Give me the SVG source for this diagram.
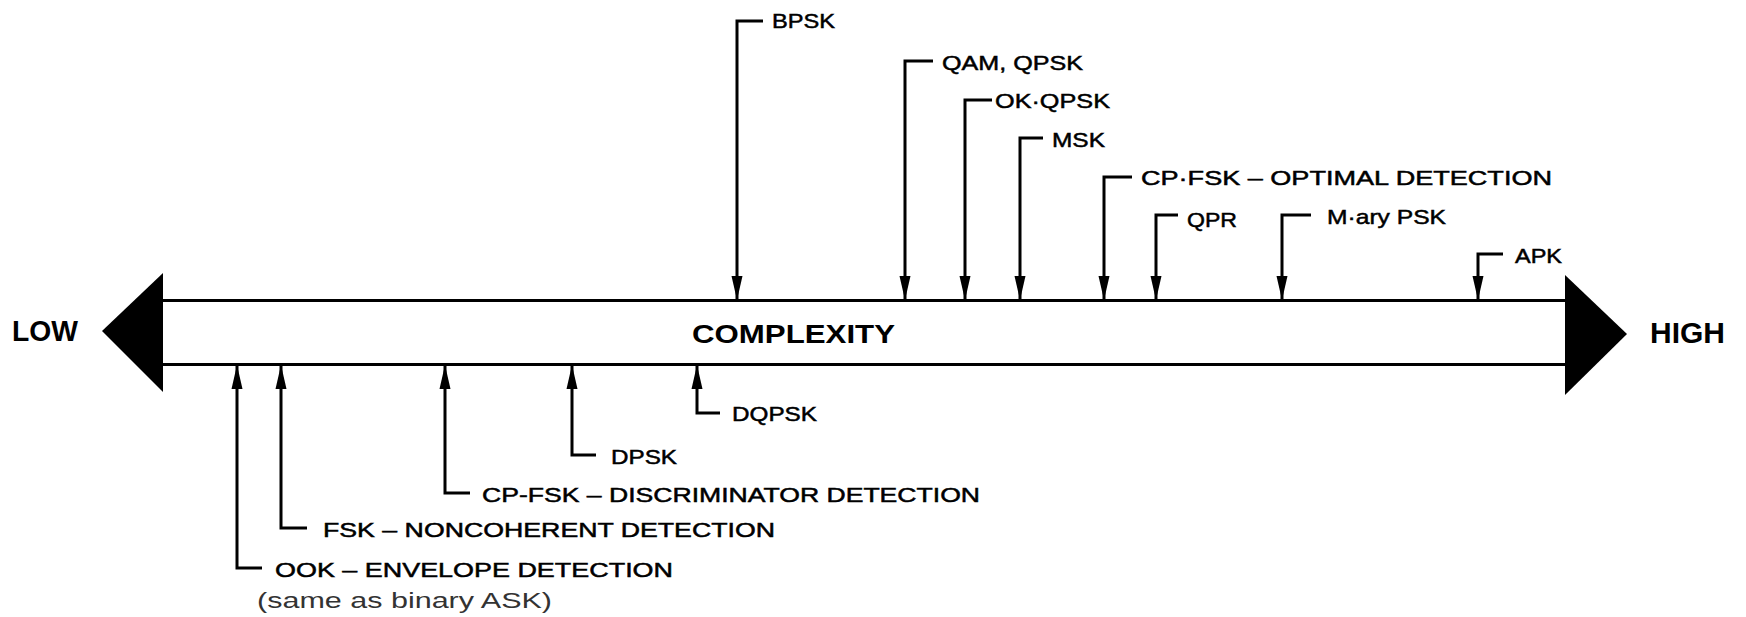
<svg xmlns="http://www.w3.org/2000/svg" width="1746" height="617" viewBox="0 0 1746 617">
<style>
.lbl{font-family:"Liberation Sans",Arial,sans-serif;font-size:21px;fill:#000;stroke:#000;stroke-width:0.5px}
.big{font-family:"Liberation Sans",Arial,sans-serif;font-weight:bold;fill:#000}
.note{font-family:"Liberation Sans",Arial,sans-serif;font-size:22px;fill:#333}
.con{fill:none;stroke:#000;stroke-width:3;stroke-linejoin:miter}
.axis{fill:none;stroke:#000;stroke-width:3}
</style>
<defs>
<marker id="ah" markerUnits="userSpaceOnUse" viewBox="0 0 24 12" refX="23" refY="6" markerWidth="24" markerHeight="12" orient="auto">
<path d="M0,0.5 L24,6 L0,11.5 Z" fill="#000"/>
</marker>
</defs>
<rect width="1746" height="617" fill="#fff"/>
<g id="axis">
<line class="axis" x1="160" y1="300.5" x2="1568" y2="300.5"/>
<line class="axis" x1="160" y1="364.5" x2="1568" y2="364.5"/>
<polygon points="163,273 102,331 163,392" fill="#000"/>
<polygon points="1565,275 1627,334 1565,395" fill="#000"/>
</g>
<g id="low"><text class="big" x="12" y="341" font-size="29" textLength="66" lengthAdjust="spacingAndGlyphs">LOW</text></g>
<g id="high"><text class="big" x="1650" y="343" font-size="29" textLength="75" lengthAdjust="spacingAndGlyphs">HIGH</text></g>
<g id="complexity"><text class="big" x="692" y="343" font-size="25" textLength="203" lengthAdjust="spacingAndGlyphs">COMPLEXITY</text></g>
<g id="connectors">
<path class="con" marker-end="url(#ah)" d="M763,21 H737 V299"/>
<path class="con" marker-end="url(#ah)" d="M933,61 H905 V299"/>
<path class="con" marker-end="url(#ah)" d="M992,100 H965 V299"/>
<path class="con" marker-end="url(#ah)" d="M1043,138 H1020 V299"/>
<path class="con" marker-end="url(#ah)" d="M1132,177 H1104 V299"/>
<path class="con" marker-end="url(#ah)" d="M1178,215 H1156 V299"/>
<path class="con" marker-end="url(#ah)" d="M1311,215 H1282 V299"/>
<path class="con" marker-end="url(#ah)" d="M1503,254 H1478 V299"/>
<path class="con" marker-end="url(#ah)" d="M262,568 H237 V366"/>
<path class="con" marker-end="url(#ah)" d="M307,528 H281 V366"/>
<path class="con" marker-end="url(#ah)" d="M470,493 H445 V366"/>
<path class="con" marker-end="url(#ah)" d="M596,455 H572 V366"/>
<path class="con" marker-end="url(#ah)" d="M720,413 H697 V366"/>
</g>
<g id="bpsk"><text class="lbl" x="772" y="28" textLength="63" lengthAdjust="spacingAndGlyphs">BPSK</text></g>
<g id="qam-qpsk"><text class="lbl" x="942" y="70" font-size="23" textLength="141" lengthAdjust="spacingAndGlyphs">QAM, QPSK</text></g>
<g id="ok-qpsk"><text class="lbl" x="995" y="108" font-size="23" textLength="115" lengthAdjust="spacingAndGlyphs">OK·QPSK</text></g>
<g id="msk"><text class="lbl" x="1052" y="147" textLength="53" lengthAdjust="spacingAndGlyphs">MSK</text></g>
<g id="cpfsk-opt"><text class="lbl" x="1141" y="185" textLength="411" lengthAdjust="spacingAndGlyphs">CP·FSK – OPTIMAL DETECTION</text></g>
<g id="qpr"><text class="lbl" x="1187" y="227" font-size="23" textLength="50" lengthAdjust="spacingAndGlyphs">QPR</text></g>
<g id="mary-psk"><text class="lbl" x="1327" y="224" textLength="119" lengthAdjust="spacingAndGlyphs">M·ary PSK</text></g>
<g id="apk"><text class="lbl" x="1515" y="263" textLength="47" lengthAdjust="spacingAndGlyphs">APK</text></g>
<g id="dqpsk"><text class="lbl" x="732" y="421" font-size="22" textLength="85" lengthAdjust="spacingAndGlyphs">DQPSK</text></g>
<g id="dpsk"><text class="lbl" x="611" y="464" textLength="66" lengthAdjust="spacingAndGlyphs">DPSK</text></g>
<g id="cpfsk-disc"><text class="lbl" x="482" y="502" textLength="498" lengthAdjust="spacingAndGlyphs">CP-FSK – DISCRIMINATOR DETECTION</text></g>
<g id="fsk"><text class="lbl" x="323" y="537" font-size="22" textLength="452" lengthAdjust="spacingAndGlyphs">FSK – NONCOHERENT DETECTION</text></g>
<g id="ook"><text class="lbl" x="275" y="577" textLength="398" lengthAdjust="spacingAndGlyphs">OOK – ENVELOPE DETECTION</text>
<text class="note" x="257" y="608" textLength="295" lengthAdjust="spacingAndGlyphs">(same as binary ASK)</text></g>
</svg>
